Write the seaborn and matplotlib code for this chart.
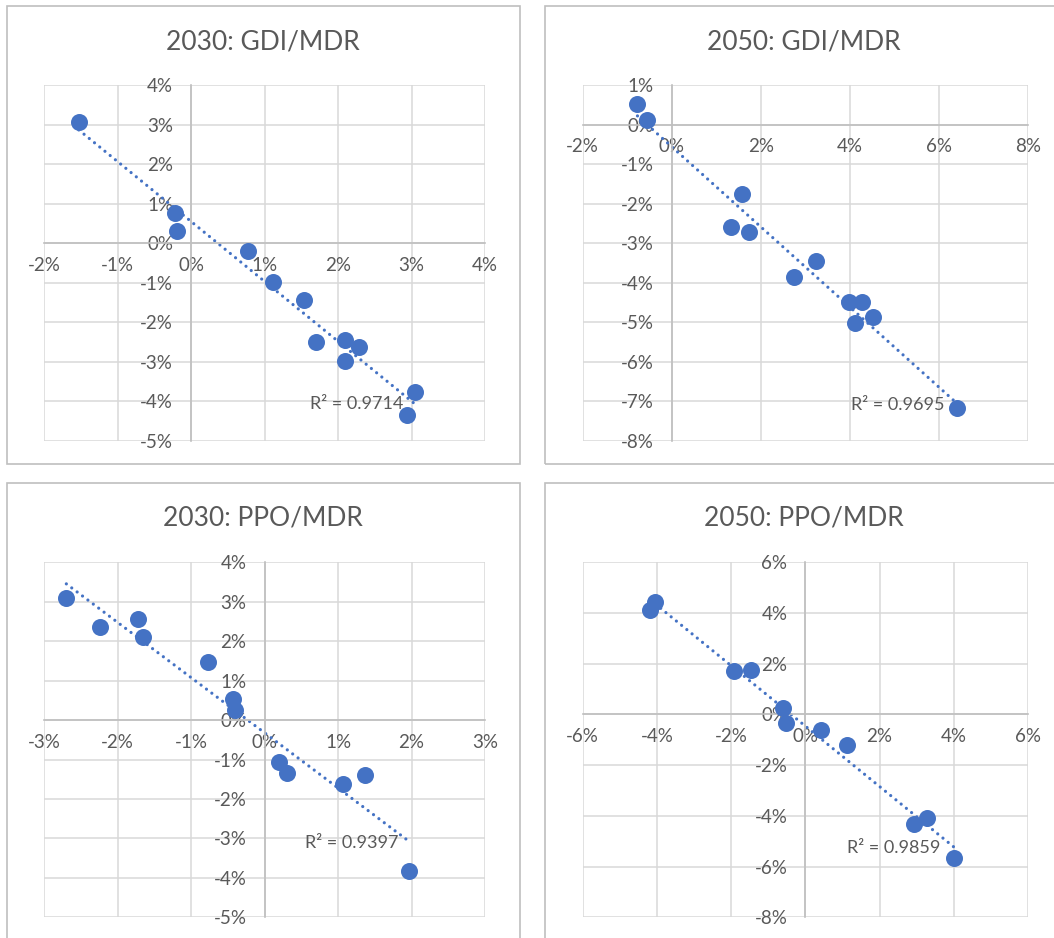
import matplotlib
matplotlib.use('Agg')
import matplotlib.pyplot as plt
from matplotlib.ticker import PercentFormatter, MultipleLocator
from matplotlib.patches import Rectangle
import seaborn as sns

# values in percent
gdi30_x = [-1.53, -0.22, -0.19, 0.78, 1.12, 1.53, 1.70, 2.10, 2.28, 2.10, 3.05, 2.94]
gdi30_y = [3.06, 0.76, 0.31, -0.21, -0.99, -1.44, -2.51, -2.45, -2.63, -2.98, -3.76, -4.36]

gdi50_x = [-0.77, -0.55, 1.58, 1.33, 1.74, 3.23, 2.74, 3.99, 4.27, 4.51, 4.11, 6.41]
gdi50_y = [0.52, 0.11, -1.75, -2.59, -2.71, -3.46, -3.86, -4.49, -4.49, -4.88, -5.01, -7.18]

ppo30_x = [-2.70, -2.24, -1.73, -1.66, -0.77, -0.43, -0.40, 0.19, 0.30, 1.07, 1.37, 1.97]
ppo30_y = [3.09, 2.36, 2.57, 2.10, 1.47, 0.53, 0.25, -1.06, -1.34, -1.61, -1.39, -3.82]

ppo50_x = [-4.04, -4.18, -1.92, -1.46, -0.59, -0.53, 0.42, 1.12, 2.94, 3.29, 4.00]
ppo50_y = [4.44, 4.13, 1.73, 1.77, 0.24, -0.33, -0.62, -1.22, -4.31, -4.08, -5.67]

titles = ['2030: GDI/MDR', '2050: GDI/MDR', '2030: PPO/MDR', '2050: PPO/MDR']
r2_labels = ['R² = 0.9714', 'R² = 0.9695', 'R² = 0.9397', 'R² = 0.9859']

sns.set_style('white')
plt.rcParams['font.family'] = ['Lato', 'DejaVu Sans']
plt.rcParams['axes.unicode_minus'] = False

blue = '#4472C4'
txt = '#595959'
W, H = 1054, 938

fig = plt.figure(figsize=(W / 100, H / 100), dpi=100)

# layout in pixels: chart box, plot area, title centre, R² label (data coords)
panels = [
    dict(x=gdi30_x, y=gdi30_y, xlim=(-2, 4), xs=1, ylim=(-5, 4), ys=1,
         box=(7, 6, 520, 464), area=(44.3, 85, 485, 440.7), tc=(263, 42), lab=(1.62, -4.08)),
    dict(x=gdi50_x, y=gdi50_y, xlim=(-2, 8), xs=2, ylim=(-8, 1), ys=1,
         box=(545, 6, 1063, 464), area=(582.7, 85, 1028, 440.7), tc=(804, 42), lab=(4.03, -7.09)),
    dict(x=ppo30_x, y=ppo30_y, xlim=(-3, 3), xs=1, ylim=(-5, 4), ys=1,
         box=(7, 483, 520, 945), area=(44.3, 562.3, 485, 917.3), tc=(263, 518), lab=(0.55, -3.11)),
    dict(x=ppo50_x, y=ppo50_y, xlim=(-6, 6), xs=2, ylim=(-8, 6), ys=2,
         box=(545, 483, 1063, 945), area=(582.7, 562.3, 1028, 917.3), tc=(804, 518), lab=(1.13, -5.27)),
]

for i, p in enumerate(panels):
    x0, y0, x1, y1 = p['box']
    fig.add_artist(Rectangle((x0 / W, 1 - y1 / H), (x1 - x0) / W, (y1 - y0) / H,
                             transform=fig.transFigure, fill=False, ec='#bfbfbf', lw=1.2))
    l, t, r, b = p['area']
    ax = fig.add_axes([l / W, 1 - b / H, (r - l) / W, (b - t) / H])

    # linear trendline, dotted like Excel
    sns.regplot(x=p['x'], y=p['y'], ax=ax, scatter=False, ci=None, color=blue,
                line_kws=dict(ls=(0, (0.01, 2.1)), lw=2.3, dash_capstyle='round', zorder=2))
    sns.scatterplot(x=p['x'], y=p['y'], ax=ax, color=blue, s=150, linewidth=0, zorder=3)

    ax.set_xlim(*p['xlim'])
    ax.set_ylim(*p['ylim'])
    ax.xaxis.set_major_locator(MultipleLocator(p['xs']))
    ax.yaxis.set_major_locator(MultipleLocator(p['ys']))
    ax.xaxis.set_major_formatter(PercentFormatter(xmax=100, decimals=0))
    ax.yaxis.set_major_formatter(PercentFormatter(xmax=100, decimals=0))
    ax.grid(True, color='#d9d9d9', lw=1.1)
    ax.set_axisbelow(True)
    for s in ['top', 'right']:
        ax.spines[s].set_visible(False)
    ax.spines['left'].set_position(('data', 0))
    ax.spines['bottom'].set_position(('data', 0))
    for s in ['left', 'bottom']:
        ax.spines[s].set_color('#bfbfbf')
        ax.spines[s].set_linewidth(1.2)
    ax.tick_params(axis='both', length=0, labelsize=13.5, labelcolor=txt)
    ax.tick_params(axis='x', pad=10)
    ax.tick_params(axis='y', pad=13)
    ax.set_xlabel('')
    ax.set_ylabel('')

    ax.text(p['lab'][0], p['lab'][1], r2_labels[i], fontsize=13, color=txt,
            ha='left', va='center', zorder=4)
    fig.text(p['tc'][0] / W, 1 - p['tc'][1] / H, titles[i], ha='center', va='center',
             fontsize=19, color=txt)

fig.savefig('out.png', dpi=100)
